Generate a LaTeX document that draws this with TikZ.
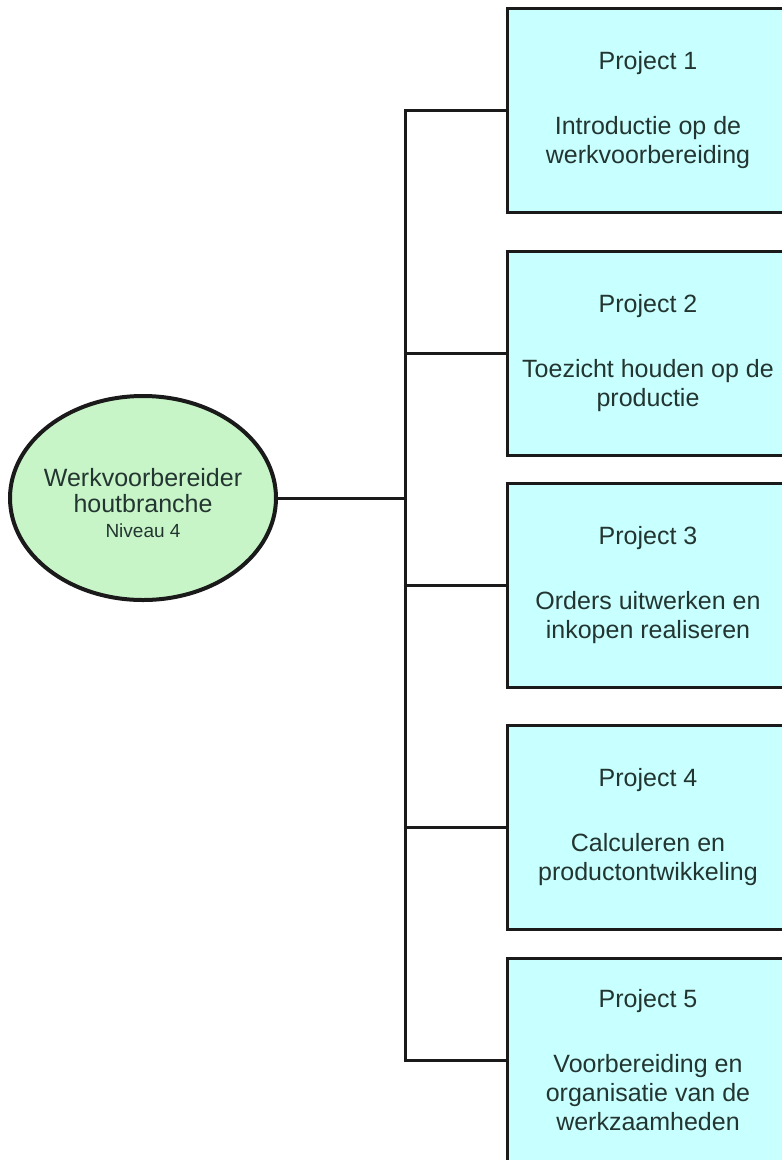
\documentclass[tikz,border=0pt]{standalone}
\usepackage{fontspec}
\setmainfont{Liberation Sans}
\usepackage{tikz}
\usetikzlibrary{shapes.geometric}
\definecolor{projfill}{HTML}{C8FFFF}
\definecolor{hubfill}{HTML}{C8F5C8}
\definecolor{ink}{HTML}{233530}
\definecolor{wire}{HTML}{1A1A1A}
\newcommand{\projfont}{\fontsize{25}{29}\selectfont}
\newcommand{\niveaufont}{\fontsize{19}{23}\selectfont}

\begin{document}
\begin{tikzpicture}[x=1pt, y=-1pt,
 proj/.style={draw=wire, line width=3pt, fill=projfill, text=ink,
   minimum width=282pt, minimum height=204pt, inner sep=0pt,
   align=center, font=\projfont},
 hub/.style={ellipse, draw=wire, line width=4pt, fill=hubfill, text=ink,
   minimum width=266pt, minimum height=204pt, inner xsep=-8pt, inner ysep=0pt,
   align=center, font=\fontsize{25}{26}\selectfont},
 wireline/.style={draw=wire, line width=3pt}]
\useasboundingbox (0,0) rectangle (782,1160);
\clip (0,0) rectangle (782,1160);
\fill[white] (0,0) rectangle (782,1160);

\node[hub] (hub) at (143,498)
  {\rule{0pt}{28pt}Werkvoorbereider\\houtbranche\\[-1.5pt]{\niveaufont Niveau 4}};

\matrix (plan) [anchor=north, inner sep=0pt] at (648,6.5)
{
  \node[proj] (p1) {Project 1\\[36pt]Introductie op de\\werkvoorbereiding};
  \\[36pt]
  \node[proj] (p2) {Project 2\\[36pt]Toezicht houden op de\\productie};
  \\[25pt]
  \node[proj] (p3) {Project 3\\[36pt]Orders uitwerken en\\inkopen realiseren};
  \\[35pt]
  \node[proj] (p4) {Project 4\\[36pt]Calculeren en\\productontwikkeling};
  \\[26pt]
  \node[proj] (p5) {Project 5\\[36pt]Voorbereiding en\\organisatie van de\\werkzaamheden};
  \\
};

\coordinate (bus) at (405,498);
\draw[wireline] (hub) -- (bus);
\draw[wireline] (p1.west) -- (p1.west -| bus) -- (p5.west -| bus) -- (p5.west);
\draw[wireline] (p2.west) -- (p2.west -| bus);
\draw[wireline] (p3.west) -- (p3.west -| bus);
\draw[wireline] (p4.west) -- (p4.west -| bus);
\end{tikzpicture}
\end{document}
